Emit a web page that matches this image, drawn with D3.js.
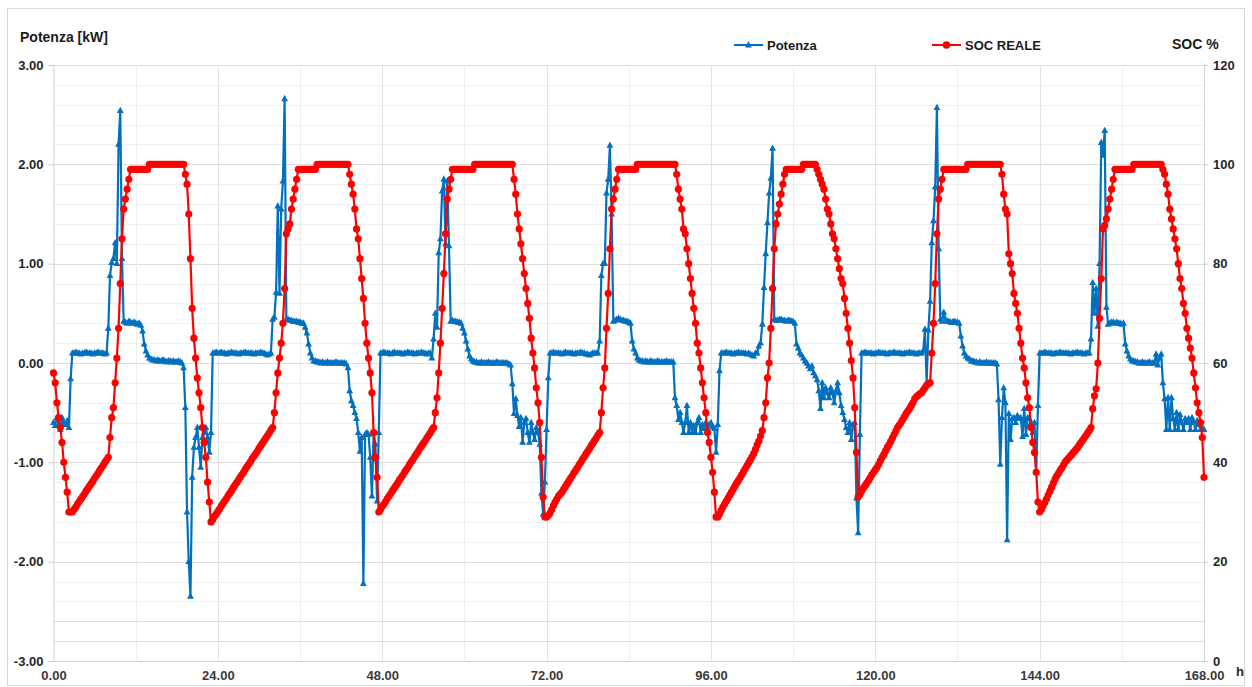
<!DOCTYPE html>
<html>
<head>
<meta charset="utf-8">
<script src="https://cdn.jsdelivr.net/npm/d3@7"></script>
<style>
  html, body { margin: 0; padding: 0; background: #fff; }
  svg { display: block; font-family: "Liberation Sans", Arial, sans-serif; }
</style>
</head>
<body>
<svg id="chart" width="1252" height="687"></svg>
<script>
// Sampling interval of the logged series, in hours
const STEP = 0.25;

// SOC REALE [%], one array per day (15-minute samples)
const socDay1 = [58,56,52,49,47,44,40,37,34,30,30,30,
  30.5,31,31.6,32.1,32.6,33.1,33.6,34.2,34.7,35.2,35.7,36.2,36.8,37.3,37.8,38.4,38.9,39.4,40,40.5,41,
  45,49,51,56,61,67,76,85,91,93,95,97,
  99,99,99,99,99,99,99,99,99,99,99,
  100,100,100,100,100,100,100,100,100,100,100,100,100,100,100,100,100,100,100,100,100,
  98,96,90,81,71,65,61,57,54,51,47,44,41,36,32,28,
  28.5,29.1,29.6];
const socDay2 = [30.1,30.6,31.2,31.7,32.2,32.7,33.3,33.8,34.3,34.9,35.4,35.9,36.4,37,37.5,38,38.6,39.1,39.6,40.1,40.7,41.2,41.7,42.2,42.8,43.3,43.8,44.4,44.9,45.4,45.9,46.5,47,
  50,54,58,61,64,68,75,86,87,88,91,93,95,97,
  99,99,99,99,99,99,99,99,99,99,99,
  100,100,100,100,100,100,100,100,100,100,100,100,100,100,100,100,100,100,100,
  98,96,94,91,87,85,81,77,73,68,64,61,58,54,46,41,37,30,
  30.5];
const socDay3 = [31.1,31.6,32.1,32.7,33.2,33.7,34.3,34.8,35.3,35.8,36.4,36.9,37.4,38,38.5,39,39.6,40.1,40.6,41.2,41.7,42.2,42.8,43.3,43.8,44.3,44.9,45.4,45.9,46.5,47,
  50,53,58,64,71,78,86,93,95,97,
  99,99,99,99,99,99,99,99,99,99,99,99,99,
  100,100,100,100,100,100,100,100,100,100,100,100,100,100,100,100,100,100,100,100,100,100,100,
  97,94,90,87,84,81,78,75,72,69,65,62,59,55,52,48,41,33,29];
const socDay4 = [29,29.3,29.8,30.5,31.3,32,32.6,33.2,33.6,34,34.6,
  35.1,35.7,36.2,36.8,37.3,37.9,38.4,38.9,39.5,40,40.6,41.1,41.7,42.2,42.7,43.3,43.8,44.4,44.9,45.5,46,
  50,55,59,67,74,83,91,93,95,97,
  99,99,99,99,99,99,99,99,99,99,99,
  100,100,100,100,100,100,100,100,100,100,100,100,100,100,100,100,100,100,100,100,100,100,100,
  98,95,93,91,87,86,83,80,77,74,71,68,64,62,59,56,53,50,46,44];
const socDay5 = [41,38,34,29,
  29,29.6,30.3,31,31.6,32.2,32.8,33.4,34,34.6,35.2,35.8,36.3,36.9,37.5,38.1,38.7,39.3,39.9,40.5,41.1,41.8,42.6,43.5,44.3,45.3,46.4,
  49,52,57,60,67,75,83,88,90,92,94,96,98,
  99,99,99,99,99,99,99,99,99,99,
  100,100,100,100,100,100,100,100,
  99,98,97,96,95,93,91,90,88,86,85,83,81,79,77,76,73,70,67,64,60.5,57,51,42,33,
  33.5,34.2,34.8,35.3,35.8,36.3,36.9,37.5,38];
const socDay6 = [38.5,39,39.6,40.3,41,41.6,42.3,43,43.5,44.2,44.9,45.6,46.3,47,47.5,48,48.6,49.2,49.8,50.3,50.8,51.4,52,52.8,53.2,53.5,53.8,54,54.5,55,55.5,55.8,56,
  62,68,76,86,93,95,97,
  99,99,99,99,99,99,99,99,99,99,99,99,99,99,
  100,100,100,100,100,100,100,100,100,100,100,100,100,100,100,100,100,100,100,100,
  98,94,91,90,82,80,78,74,72,70,67,64,61,59,56,53,51,47,44,42,38,32];
const socDay7 = [30,30.5,31.2,31.9,32.6,33.4,34.2,35,35.8,36.6,37.3,37.8,38.4,38.9,39.5,40.1,40.5,40.9,41.3,41.7,42.1,42.5,42.9,43.4,43.9,44.4,44.9,45.4,45.9,46.4,47,
  50.8,53.4,54.8,60,69,77,87,87.7,89,91,93,95,97,
  99,99,99,99,99,99,99,99,99,99,99,
  100,100,100,100,100,100,100,100,100,100,100,100,100,100,100,100,100,
  99,98,96,94,91,89,87,85,83,80,77,75,72,70,67,65,63,61,58,55,52,50,48,45,37];

// Potenza [kW], one array per day (15-minute samples)
const powDay1 = [-0.6,-0.63,-0.55,-0.63,-0.67,-0.55,-0.6,-0.62,-0.58,-0.65,-0.16,0.1,
  0.1,0.11,0.1,0.1,0.09,0.1,0.1,0.11,0.1,0.1,0.1,0.09,0.1,0.1,0.11,0.1,0.1,0.1,0.09,0.1,
  0.35,0.88,1.01,1.05,1.21,1.0,2.2,2.54,1.05,
  0.42,0.41,0.4,0.42,0.41,0.4,0.41,0.4,0.39,0.4,0.38,
  0.32,0.19,0.12,0.08,0.05,
  0.04,0.03,0.03,0.02,0.03,0.02,0.02,0.03,0.02,0.01,0.02,0.02,0.01,0.02,0.01,0.01,0.02,0.01,0,-0.05,
  -0.45,-1.5,-2.0,-2.35,-1.15,-0.85,-0.75,-0.65,-0.85,-1.05,-0.75,-0.7,-0.65,-0.75,-0.9,-0.7,
  0.1,0.1,0.11];
const powDay2 = [0.1,0.1,0.11,0.1,0.1,0.09,0.1,0.1,0.11,0.1,0.1,0.1,0.09,0.1,0.1,0.1,0.11,0.1,0.1,0.1,0.1,0.09,0.1,0.1,0.1,0.11,0.1,0.1,0.09,0.08,0.09,0.1,
  0.44,0.46,0.71,1.58,0.7,1.55,1.83,2.66,
  0.44,0.44,0.43,0.43,0.42,0.42,0.42,0.41,0.41,0.4,0.4,
  0.36,0.3,0.19,0.1,0.05,0.02,
  0.02,0.01,0.01,0,0.01,0,0,0.01,0,0,0,0,0.01,0,0,0,0,0,-0.01,-0.05,
  -0.28,-0.38,-0.43,-0.5,-0.56,-0.7,-0.89,-0.75,-2.22,-0.72,-0.7,-0.72,-0.95,-1.34,-0.7,-0.82,-1.39,-0.7,
  0.1];
const powDay3 = [0.1,0.11,0.1,0.1,0.1,0.09,0.1,0.11,0.1,0.1,0.1,0.1,0.09,0.1,0.1,0.11,0.1,0.1,0.1,0.09,0.1,0.1,0.1,0.11,0.1,0.1,0.09,0.1,0.1,
  0.05,0.24,0.5,0.36,1.11,1.25,1.73,1.85,1.2,1.83,1.18,
  0.42,0.43,0.42,0.42,0.41,0.41,0.4,
  0.35,0.3,0.22,0.14,0.07,0.04,
  0.02,0.01,0.01,0,0,0.01,0,0,0,0.01,0,0,0,0,0.01,0,0,0,0,0,0,-0.01,-0.02,
  -0.21,-0.51,-0.36,-0.53,-0.64,-0.55,-0.8,-0.6,-0.56,-0.7,-0.8,-0.6,-0.7,-0.77,-0.65,-0.7,-0.82,-1.31,-1.52,-1.2];
const powDay4 = [-0.67,-0.15,0.1,
  0.1,0.11,0.1,0.1,0.1,0.1,0.09,0.1,0.11,0.1,0.1,0.1,0.1,0.09,0.1,0.1,0.1,0.11,0.1,0.1,0.09,0.09,0.08,0.09,0.1,0.1,0.1,0.1,
  0.22,0.88,1.0,1.0,1.71,1.85,2.19,1.5,
  0.42,0.43,0.44,0.45,0.44,0.43,0.43,0.42,0.42,0.41,0.4,
  0.22,0.14,0.1,0.05,0.03,
  0.02,0.02,0.01,0.02,0.01,0.01,0.02,0.01,0.01,0.01,0.02,0.01,0.01,0.01,0.01,0.02,0.01,0.01,0.01,0.01,
  -0.35,-0.43,-0.57,-0.5,-0.6,-0.7,-0.6,-0.43,-0.7,-0.6,-0.7,-0.63,-0.7,-0.6,-0.55,-0.7,-0.62,-0.66,-0.6,-0.65,-0.62];
const powDay5 = [-0.6,-0.64,-0.66,-0.9,-0.62,-0.08,0.1,
  0.1,0.1,0.11,0.1,0.1,0.1,0.09,0.1,0.1,0.11,0.1,0.1,0.1,0.1,0.09,0.1,0.09,
  0.08,0.07,0.1,0.1,0.17,0.2,0.39,0.76,1.1,1.41,1.71,1.86,2.16,
  0.44,0.43,0.43,0.44,0.44,0.43,0.43,0.42,0.43,0.43,0.42,0.42,0.4,
  0.19,0.15,0.1,0.08,0.05,0.02,0,-0.03,-0.06,-0.03,-0.1,-0.13,-0.17,-0.28,-0.46,-0.2,-0.35,-0.25,-0.3,-0.35,
  -0.25,-0.3,-0.4,-0.28,-0.2,-0.3,-0.43,-0.5,-0.57,-0.65,-0.7,-0.6,-0.77,-0.62,-0.6,-1.36,-1.71,-0.72,
  0.1,0.1,0.11,0.1,0.1,0.1,0.1,0.09];
const powDay6 = [0.1,0.1,0.11,0.1,0.1,0.1,0.1,0.09,0.1,0.1,0.1,0.11,0.1,0.1,0.1,0.1,0.09,0.1,0.1,0.1,0.11,0.1,0.1,0.1,0.09,0.1,0.1,0.1,
  0.12,0.34,-0.2,0.33,0.62,1.21,1.43,1.77,2.57,1.15,0.44,
  0.42,0.51,0.44,0.42,0.42,0.41,0.41,0.42,0.41,0.41,0.4,
  0.27,0.17,0.1,0.07,0.05,0.04,0.02,
  0.02,0.01,0.01,0,0.01,0,0,0,0.01,0,0,0,0,0,-0.01,
  -0.37,-1.02,-0.55,-0.25,-0.4,-1.78,-0.51,-0.77,-0.56,-0.55,-0.6,-0.53,-0.56,-0.55,-0.74,-0.46,-0.72,-0.55,-0.56,-0.6,-0.7,-0.6,-1.1,-0.43];
const powDay7 = [0.1,0.1,0.1,0.11,0.1,0.1,0.1,0.1,0.09,0.1,0.1,0.1,0.11,0.1,0.1,0.1,0.1,0.1,0.09,0.1,0.1,0.1,0.11,0.1,0.1,0.1,0.09,0.1,0.1,0.1,
  0.24,0.81,0.5,0.75,0.37,1.0,2.22,2.09,2.34,0.56,
  0.39,0.4,0.41,0.41,0.4,0.41,0.4,0.4,0.39,0.4,
  0.19,0.12,0.07,0.04,0.02,
  0.02,0.01,0.01,0,0,0.01,0,0,0,0.01,0,0,0,
  0.09,-0.02,0.05,0.09,
  -0.2,-0.36,-0.67,-0.35,-0.67,-0.35,-0.56,-0.67,-0.5,-0.67,-0.52,-0.6,-0.67,-0.56,-0.6,-0.56,-0.67,-0.55,-0.6,-0.67,-0.58,-0.62,-0.67,-0.65,-0.67];

// Axis ticks
const hourTicks = [0, 24, 48, 72, 96, 120, 144, 168];
const powerTicks = [-3, -2, -1, 0, 1, 2, 3];
const socTicks = [0, 20, 40, 60, 80, 100, 120];

const socDays = [socDay1, socDay2, socDay3, socDay4, socDay5, socDay6, socDay7];
const powDays = [powDay1, powDay2, powDay3, powDay4, powDay5, powDay6, powDay7];

function toSeries(days) {
  const out = [];
  days.forEach((arr, d) => {
    const expected = d === days.length - 1 ? 97 : 96;
    if (arr.length !== expected) throw new Error("day " + (d + 1) + " has " + arr.length + " samples");
    arr.forEach((v, i) => out.push({ t: d * 24 + i * STEP, v }));
  });
  return out;
}
const socSeries = toSeries(socDays);
const powSeries = toSeries(powDays);

const BLUE = "#0070C0", RED = "#FF0000";
const FONT = "'Liberation Sans', Arial, sans-serif";
const plot = { left: 53.5, right: 1204, top: 65, bottom: 661 };
// two decimals, plain hyphen for negatives
const fmt2 = d => d3.format(".2f")(d).replace("\u2212", "-");

const svg = d3.select("#chart");
svg.append("rect").attr("x", 7.5).attr("y", 8.5).attr("width", 1237).attr("height", 677)
  .attr("fill", "#fff").attr("stroke", "#d9d9d9").attr("stroke-width", 1);

const x = d3.scaleLinear().domain([0, 168]).range([plot.left, plot.right]);
const y = d3.scaleLinear().domain([-3, 3]).range([plot.bottom, plot.top]);
const y2 = d3.scaleLinear().domain([0, 120]).range([plot.bottom, plot.top]);

// Gridlines: minor every 0.2 kW, major every 1 kW, verticals every 12 h
const grid = svg.append("g");
const minorY = d3.range(-3, 3.001, 0.2).map(v => Math.round(v * 10) / 10);
grid.selectAll("line.hminor").data(minorY.filter(v => Math.abs(v - Math.round(v)) > 1e-6))
  .join("line")
  .attr("x1", plot.left).attr("x2", plot.right)
  .attr("y1", d => Math.round(y(d)) + 0.5).attr("y2", d => Math.round(y(d)) + 0.5)
  .attr("stroke", d => (d < -2.5 ? "#dcdcdc" : "#f0f0f0")).attr("stroke-width", 1);
grid.selectAll("line.hmajor").data(powerTicks).join("line")
  .attr("x1", plot.left).attr("x2", plot.right)
  .attr("y1", d => Math.round(y(d)) + 0.5).attr("y2", d => Math.round(y(d)) + 0.5)
  .attr("stroke", "#dedede").attr("stroke-width", 1.2);
grid.selectAll("line.v").data(d3.range(12, 168, 12)).join("line")
  .attr("x1", d => Math.round(x(d)) + 0.5).attr("x2", d => Math.round(x(d)) + 0.5)
  .attr("y1", plot.top).attr("y2", plot.bottom)
  .attr("stroke", d => (d % 24 === 0 ? "#e3e3e3" : "#ededed")).attr("stroke-width", 1);

// Axes
function styleAxis(g) {
  g.selectAll(".domain").attr("stroke", "#d0d0d0");
  g.selectAll(".tick line").attr("stroke", "#c8c8c8");
  g.selectAll(".tick text").attr("font-family", FONT).attr("font-size", 13)
    .attr("font-weight", "bold").attr("fill", "#262626");
}
svg.append("g").attr("transform", `translate(${plot.left},0)`)
  .call(d3.axisLeft(y).tickValues(powerTicks).tickFormat(fmt2).tickSizeOuter(0).tickSize(5).tickPadding(5))
  .call(styleAxis);
svg.append("g").attr("transform", `translate(${plot.right},0)`)
  .call(d3.axisRight(y2).tickValues(socTicks).tickFormat(d3.format("d")).tickSizeOuter(0).tickSize(4).tickPadding(5))
  .call(styleAxis);
svg.append("g").attr("transform", `translate(0,${plot.bottom})`)
  .call(d3.axisBottom(x).tickValues(hourTicks).tickFormat(fmt2).tickSizeOuter(0).tickSize(0).tickPadding(10))
  .call(styleAxis)
  .call(g => g.selectAll(".tick text").attr("fill", "#3a3a3a"));

// Series: Potenza (blue, triangles) under SOC REALE (red, circles)
const tri = "M0,-3.9L3.4,2.4L-3.4,2.4Z";
const linePow = d3.line().x(d => x(d.t)).y(d => y(d.v));
const lineSoc = d3.line().x(d => x(d.t)).y(d => y2(d.v));

svg.append("path").datum(powSeries).attr("d", linePow)
  .attr("fill", "none").attr("stroke", BLUE).attr("stroke-width", 2.2).attr("stroke-linejoin", "round");
svg.append("g").selectAll("path").data(powSeries).join("path")
  .attr("d", tri).attr("transform", d => `translate(${x(d.t)},${y(d.v)})`).attr("fill", BLUE);

svg.append("path").datum(socSeries).attr("d", lineSoc)
  .attr("fill", "none").attr("stroke", RED).attr("stroke-width", 2.2).attr("stroke-linejoin", "round");
svg.append("g").selectAll("circle").data(socSeries).join("circle")
  .attr("cx", d => x(d.t)).attr("cy", d => y2(d.v)).attr("r", 3.6).attr("fill", RED);

// Titles
svg.append("text").attr("x", 20).attr("y", 42).text("Potenza [kW]")
  .attr("font-family", FONT).attr("font-size", 14).attr("font-weight", "bold").attr("fill", "#1a1a1a");
svg.append("text").attr("x", 1172).attr("y", 49).text("SOC %")
  .attr("font-family", FONT).attr("font-size", 14).attr("font-weight", "bold").attr("fill", "#1a1a1a");
svg.append("text").attr("x", 1236).attr("y", 676).text("h")
  .attr("font-family", FONT).attr("font-size", 13).attr("font-weight", "bold").attr("fill", "#262626");

// Legend
const legend = [
  { name: "Potenza", color: BLUE, x: 734, marker: "tri" },
  { name: "SOC REALE", color: RED, x: 932, marker: "circle" }
];
const lg = svg.append("g").selectAll("g").data(legend).join("g")
  .attr("transform", d => `translate(${d.x},45)`);
lg.append("line").attr("x1", 0).attr("x2", 29).attr("y1", 0).attr("y2", 0)
  .attr("stroke", d => d.color).attr("stroke-width", 2);
lg.filter(d => d.marker === "tri").append("path").attr("d", tri)
  .attr("transform", "translate(14.5,0)").attr("fill", d => d.color);
lg.filter(d => d.marker === "circle").append("circle").attr("cx", 14.5).attr("cy", 0).attr("r", 3.8)
  .attr("fill", d => d.color);
lg.append("text").attr("x", 33).attr("y", 4.5).text(d => d.name)
  .attr("font-family", FONT).attr("font-size", 13).attr("font-weight", "bold").attr("fill", "#1a1a1a");
</script>
</body>
</html>
